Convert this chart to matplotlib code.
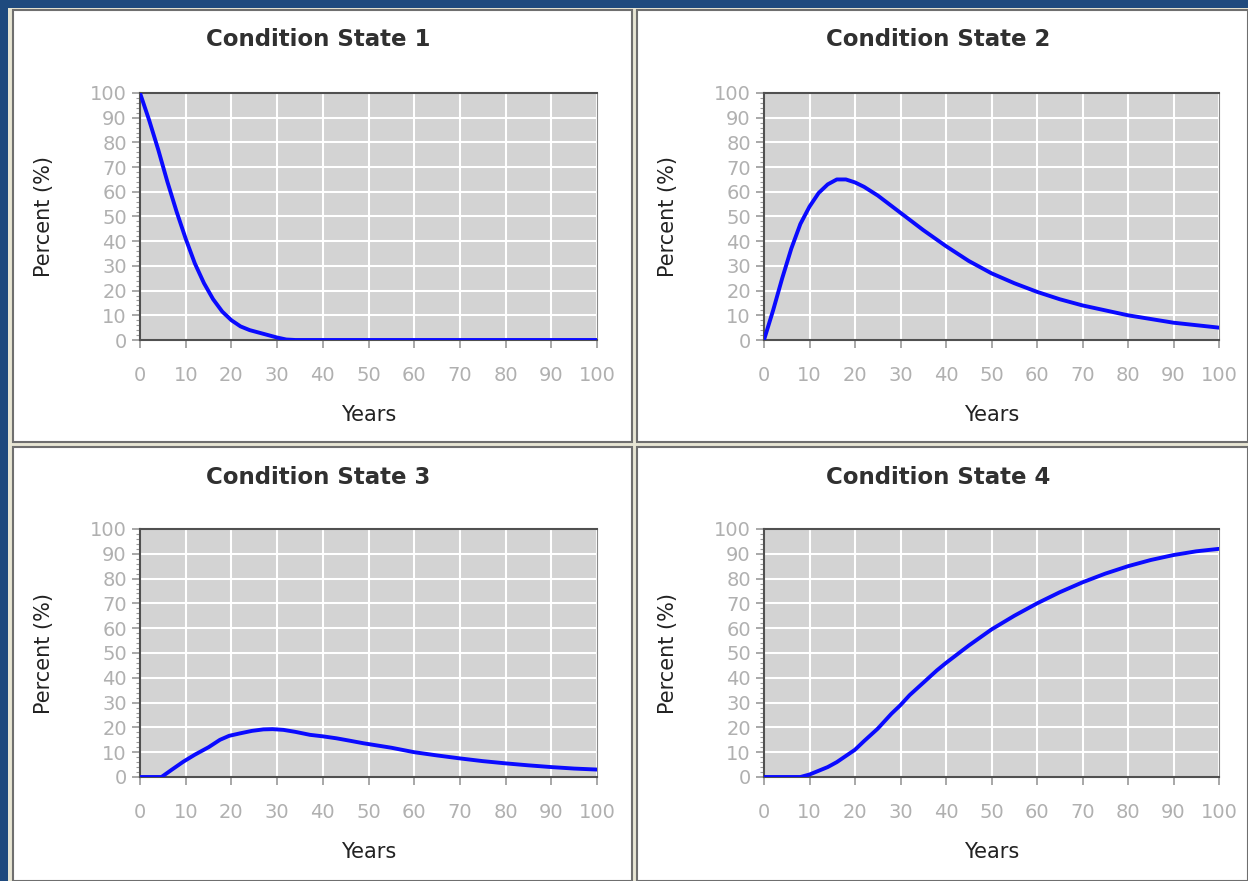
import matplotlib.pyplot as plt
from matplotlib.patches import Rectangle
import numpy as np

# years and percent per condition state
years1 = [0, 2, 4, 6, 8, 10, 12, 14, 16, 18, 20, 22, 24, 26, 28, 30, 32, 34, 40, 50, 60, 70, 80, 90, 100]
cs1 = [100, 89, 77, 64, 52, 41, 31, 23, 16.5, 11.5, 8, 5.5, 4, 3, 2, 1, 0.2, 0, 0, 0, 0, 0, 0, 0, 0]

years2 = [0, 2, 4, 6, 8, 10, 12, 14, 16, 18, 20, 22, 25, 30, 35, 40, 45, 50, 55, 60, 65, 70, 75, 80, 85, 90, 95, 100]
cs2 = [0, 12, 25, 37, 47, 54, 59.5, 63, 65, 65, 63.8, 62, 58.5, 51.5, 44.5, 38, 32, 27, 23, 19.5, 16.5, 14, 12, 10, 8.5, 7, 6, 5]

years3 = [0, 4.7, 7, 9.5, 12, 15, 17.5, 19.5, 21.9, 24.5, 27, 29, 31.4, 34, 37.2, 40, 43, 46, 48.9, 55, 60, 65, 70, 75, 80, 85, 90, 95, 100]
cs3 = [0, 0, 3, 6.2, 9, 12, 15, 16.6, 17.6, 18.6, 19.2, 19.3, 19, 18.2, 17, 16.4, 15.6, 14.6, 13.6, 11.8, 10, 8.7, 7.5, 6.4, 5.5, 4.7, 4, 3.4, 3]

years4 = [0, 8, 10, 12, 14, 16, 18, 20, 22, 25, 28, 30, 32, 35, 38, 40, 45, 50, 55, 60, 65, 70, 75, 80, 85, 90, 95, 100]
cs4 = [0, 0, 1, 2.5, 4, 6, 8.5, 11, 14.5, 19.5, 25.5, 29, 33, 38, 43, 46, 53, 59.5, 65, 70, 74.5, 78.5, 82, 85, 87.5, 89.5, 91, 92]

titles = ['Condition State 1', 'Condition State 2', 'Condition State 3', 'Condition State 4']
series = [(years1, cs1), (years2, cs2), (years3, cs3), (years4, cs4)]

W, H = 1248, 881
fig = plt.figure(figsize=(W / 100, H / 100), dpi=100)
fig.patch.set_facecolor('#1f4a7e')

# panel boxes in pixels: left, top, right, bottom
panels = [(13, 10, 632, 442), (637, 10, 1248, 442),
          (13, 447, 632, 881), (637, 447, 1248, 881)]
# axes boxes in pixels
axboxes = [(140, 93, 597, 340), (764, 93, 1219, 340),
           (140, 529, 597, 777), (764, 529, 1219, 777)]

# light frame behind panels
fig.patches.append(Rectangle((8 / W, 0), 1 - 8 / W, 1 - 8 / H, transform=fig.transFigure,
                             facecolor='#e8e6d4', edgecolor='none', zorder=-3))

for (l, t, r, b) in panels:
    fig.patches.append(Rectangle((l / W, 1 - b / H), (r - l) / W, (b - t) / H,
                                 transform=fig.transFigure, facecolor='white',
                                 edgecolor='#6f6f6f', linewidth=1.5, zorder=-2))

for i, (l, t, r, b) in enumerate(axboxes):
    ax = fig.add_axes([l / W, 1 - b / H, (r - l) / W, (b - t) / H])
    x, y = series[i]
    ax.set_facecolor('#d3d3d3')
    ax.plot(x, y, color='#0a0aff', linewidth=2.8, solid_capstyle='round',
            solid_joinstyle='round', zorder=3)
    ax.set_xlim(0, 100)
    ax.set_ylim(0, 100)
    ax.set_xticks(np.arange(0, 101, 10))
    ax.set_yticks(np.arange(0, 101, 10))
    ax.set_yticks(np.arange(0, 101, 2), minor=True)
    ax.grid(True, color='white', linewidth=1.5)
    ax.set_axisbelow(True)
    ax.tick_params(axis='both', which='major', colors='#9a9a9a', labelcolor='#b0b0b0',
                   labelsize=14, length=6, width=1.2)
    ax.tick_params(axis='y', which='minor', colors='#9a9a9a', length=3, width=0.8)
    ax.tick_params(axis='x', pad=13)
    for s in ['left', 'bottom', 'top']:
        ax.spines[s].set_color('#505050')
        ax.spines[s].set_linewidth(1.5)
    ax.spines['right'].set_color('#8a8a8a')
    ax.set_xlabel('Years', fontsize=15, color='#222222', labelpad=14)
    ax.set_ylabel('Percent (%)', fontsize=15, color='#222222', labelpad=26)

    pl, pt, pr, pb = panels[i]
    fig.text(((pl + pr) / 2 - 4) / W, 1 - (pt + 30) / H, titles[i], ha='center', va='center',
             fontsize=16.5, fontweight='bold', color='#303030')

fig.savefig('out.png', dpi=100, facecolor=fig.get_facecolor())
